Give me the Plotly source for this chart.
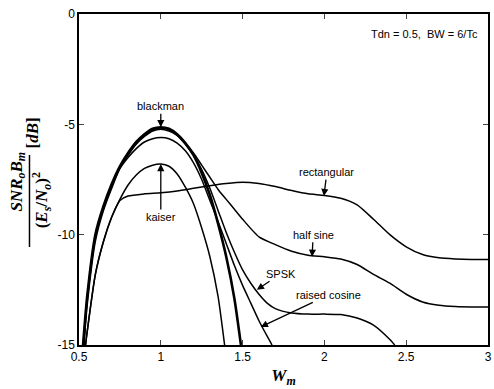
import plotly.graph_objects as go

# ---- data ----
blackman_x = [0.525, 0.55, 0.6, 0.65, 0.7, 0.75, 0.8, 0.85, 0.9, 0.95, 1.0, 1.05, 1.1, 1.15, 1.2, 1.25, 1.3, 1.35, 1.4, 1.45, 1.49]
blackman_y = [-15, -12.8, -10.0, -8.7, -7.7, -6.9, -6.3, -5.8, -5.45, -5.2, -5.13, -5.2, -5.45, -5.85, -6.4, -7.2, -8.2, -9.5, -11.0, -12.9, -15]

raised_x = [0.53, 0.55, 0.6, 0.65, 0.7, 0.75, 0.8, 0.85, 0.9, 0.95, 1.0, 1.05, 1.1, 1.15, 1.2, 1.25, 1.3, 1.35, 1.4, 1.45, 1.5, 1.55, 1.6, 1.65, 1.68]
raised_y = [-15, -13.2, -10.3, -8.9, -7.9, -7.0, -6.5, -6.1, -5.8, -5.65, -5.6, -5.65, -5.85, -6.2, -6.75, -7.5, -8.45, -9.4, -10.4, -11.4, -12.3, -13.1, -13.9, -14.6, -15]

spsk_x = [0.525, 0.55, 0.6, 0.65, 0.7, 0.75, 0.8, 0.85, 0.9, 0.95, 1.0, 1.05, 1.1, 1.15, 1.2, 1.25, 1.3, 1.35, 1.4, 1.45, 1.5, 1.55, 1.6, 1.65, 1.7, 1.8, 1.9, 2.0, 2.1, 2.2, 2.3, 2.4, 2.43]
spsk_y = [-15, -12.85, -10.05, -8.75, -7.75, -6.95, -6.35, -5.85, -5.5, -5.25, -5.17, -5.25, -5.5, -5.9, -6.4, -7.05, -7.9, -8.9, -9.9, -10.8, -11.6, -12.2, -12.7, -13.1, -13.35, -13.55, -13.6, -13.6, -13.62, -13.78, -14.1, -14.75, -15]

halfsine_x = [0.53, 0.55, 0.6, 0.65, 0.7, 0.75, 0.8, 0.85, 0.9, 0.95, 1.0, 1.05, 1.1, 1.15, 1.2, 1.25, 1.3, 1.35, 1.4, 1.45, 1.5, 1.6, 1.7, 1.8, 1.9, 2.0, 2.1, 2.2, 2.3, 2.4, 2.5, 2.6, 2.7, 2.8, 2.9, 3.0]
halfsine_y = [-15, -12.9, -10.1, -8.8, -7.8, -7.0, -6.4, -5.9, -5.55, -5.3, -5.22, -5.3, -5.5, -5.85, -6.3, -6.85, -7.4, -7.95, -8.4, -8.85, -9.3, -10.1, -10.45, -10.75, -10.93, -11.0, -11.1, -11.35, -11.8, -12.2, -12.7, -13.05, -13.2, -13.26, -13.28, -13.28]

kaiser_x = [0.54, 0.55, 0.6, 0.65, 0.7, 0.75, 0.8, 0.85, 0.9, 0.95, 1.0, 1.05, 1.1, 1.15, 1.2, 1.25, 1.3, 1.35, 1.39]
kaiser_y = [-15, -14.4, -11.8, -10.3, -9.2, -8.4, -7.75, -7.3, -7.0, -6.85, -6.8, -6.9, -7.25, -7.85, -8.6, -9.7, -11.0, -12.8, -15]

rect_x = [0.54, 0.55, 0.6, 0.65, 0.7, 0.75, 0.8, 0.9, 1.0, 1.1, 1.2, 1.3, 1.4, 1.5, 1.6, 1.7, 1.8, 1.9, 2.0, 2.1, 2.2, 2.3, 2.4, 2.5, 2.6, 2.7, 2.8, 2.9, 3.0]
rect_y = [-15, -14.4, -11.8, -10.3, -9.2, -8.45, -8.25, -8.15, -8.1, -8.02, -7.9, -7.78, -7.68, -7.62, -7.68, -7.82, -8.0, -8.15, -8.22, -8.35, -8.65, -9.3, -10.0, -10.55, -10.9, -11.05, -11.1, -11.12, -11.12]

x_ticks = [0.5, 1, 1.5, 2, 2.5, 3]
x_tick_labels = ["0.5", "1", "1.5", "2", "2.5", "3"]
y_ticks = [-15, -10, -5, 0]
y_tick_labels = ["-15", "-10", "-5", "0"]

labels = [
    # text, x, y, ax, ay
    ("blackman", 1.0, -5.13, 0, -21),
    ("kaiser", 1.0, -6.8, 0, 53),
    ("rectangular", 1.997, -8.25, 3, -24),
    ("half sine", 1.925, -11.0, 1, -22),
    ("SPSK", 1.587, -12.5, 24, -16),
    ("raised cosine", 1.611, -14.18, 68, -32),
]

fig = go.Figure()
series = [
    (blackman_x, blackman_y, 2.6),
    (spsk_x, spsk_y, 1.5),
    (halfsine_x, halfsine_y, 1.5),
    (raised_x, raised_y, 1.5),
    (kaiser_x, kaiser_y, 1.5),
    (rect_x, rect_y, 1.5),
]
for xs, ys, w in series:
    fig.add_trace(go.Scatter(x=xs, y=ys, mode="lines", line=dict(color="black", width=w, shape="spline", smoothing=0.6), showlegend=False))

for text, x, y, ax, ay in labels:
    fig.add_annotation(x=x, y=y, text=text, showarrow=True, ax=ax, ay=ay,
                       arrowhead=2, arrowsize=1.1, arrowwidth=1.3, arrowcolor="black",
                       font=dict(family="Liberation Sans", size=11, color="black"))

fig.add_annotation(x=0.98, y=0.94, xref="paper", yref="paper", xanchor="right", yanchor="middle",
                   text="Tdn = 0.5,  BW = 6/Tc", showarrow=False,
                   font=dict(family="Liberation Sans", size=11, color="black"))

# y axis title as a rotated fraction
ser = "Liberation Serif"
fig.add_annotation(x=17, y=182, xref="paper", yref="paper", text="<b><i>SNR<sub>o</sub>B<sub>m</sub></i></b>",
                   showarrow=False, textangle=-90, font=dict(family=ser, size=17, color="black"))
fig.add_annotation(x=41, y=200, xref="paper", yref="paper", text="<b>(<i>E<sub>s</sub></i>/<i>N<sub>o</sub></i>)<sup>2</sup></b>",
                   showarrow=False, textangle=-90, font=dict(family=ser, size=17, color="black"))
fig.add_annotation(x=32, y=133, xref="paper", yref="paper", text="<b>[<i>dB</i>]</b>",
                   showarrow=False, textangle=-90, font=dict(family=ser, size=17, color="black"))

fig.update_layout(
    width=494, height=389,
    margin=dict(l=79, r=2, t=14, b=44),
    plot_bgcolor="white", paper_bgcolor="white",
    font=dict(family="Liberation Sans", size=12, color="black"),
    xaxis=dict(range=[0.5, 3], tickvals=x_ticks, ticktext=x_tick_labels, ticks="inside", ticklen=5,
               showline=True, linecolor="black", linewidth=1.5, mirror="ticks", showgrid=False, zeroline=False,
               tickfont=dict(family="Liberation Sans", size=12, color="black"),
               title=dict(text="<b><i>W<sub>m</sub></i></b>", font=dict(family=ser, size=17), standoff=6)),
    yaxis=dict(range=[-15, 0], tickvals=y_ticks, ticktext=y_tick_labels, ticks="inside", ticklen=5,
               showline=True, linecolor="black", linewidth=1.5, mirror="ticks", showgrid=False, zeroline=False,
               tickfont=dict(family="Liberation Sans", size=12, color="black")),
)

# convert pixel positions of y-title pieces into paper coordinates
pw, ph = 494 - 79 - 2, 389 - 14 - 44
for ann in fig.layout.annotations:
    if ann.xref == "paper" and ann.x is not None and ann.x > 1.5:
        ann.x = (ann.x - 79) / pw
        ann.y = 1 - (ann.y - 14) / ph
        ann.xanchor = "center"
        ann.yanchor = "middle"

fig.add_shape(type="line", xref="paper", yref="paper",
              x0=(29 - 79) / pw, x1=(29 - 79) / pw,
              y0=1 - (155 - 14) / ph, y1=1 - (247 - 14) / ph,
              line=dict(color="black", width=1.5))

fig.write_html("out.html")
